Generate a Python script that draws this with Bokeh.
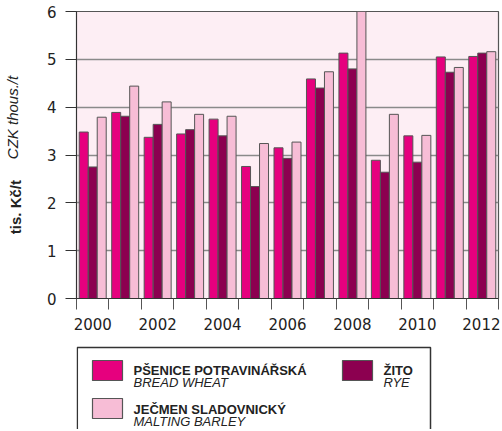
import math
from bokeh.plotting import figure
from bokeh.models import (ColumnDataSource, Range1d, FixedTicker, LinearAxis)
from bokeh.transform import dodge
from bokeh.layouts import column
from bokeh.core.properties import value
from bokeh.embed import file_html
from bokeh.resources import INLINE

# ---- data ----
years = [2000, 2001, 2002, 2003, 2004, 2005, 2006, 2007, 2008, 2009, 2010, 2011, 2012]
wheat = [3.48, 3.89, 3.37, 3.44, 3.75, 2.76, 3.15, 4.59, 5.13, 2.89, 3.40, 5.05, 5.06]
rye = [2.75, 3.81, 3.64, 3.53, 3.40, 2.34, 2.93, 4.40, 4.80, 2.64, 2.85, 4.73, 5.13]
barley = [3.79, 4.44, 4.11, 3.85, 3.81, 3.24, 3.27, 4.74, 6.30, 3.85, 3.41, 4.83, 5.16]
year_labels = [2000, 2002, 2004, 2006, 2008, 2010, 2012]
y_ticks = [0, 1, 2, 3, 4, 5, 6]
series_cz = ["PŠENICE POTRAVINÁŘSKÁ", "ŽITO", "JEČMEN SLADOVNICKÝ"]
series_en = ["BREAD WHEAT", "RYE", "MALTING BARLEY"]
colors = ["#e6007e", "#8c0050", "#f7bdd6"]
y_label_cz = "tis. Kč/t"
y_label_en = "CZK thous./t"

NBSP = "\u00a0"
src = ColumnDataSource(dict(year=years, wheat=wheat, rye=rye, barley=barley))

W = 500
p = figure(width=W, height=343, output_backend="svg", toolbar_location=None,
           x_range=Range1d(years[0] - 0.5, years[-1] + 0.5), y_range=Range1d(0, 6),
           min_border_left=76, min_border_right=2, min_border_top=11, min_border_bottom=45)
p.background_fill_color = "#fdeef4"
p.border_fill_color = "white"
p.outline_line_color = "#555555"
p.outline_line_width = 1.2

bw = 0.277
for key, off, col in zip(["wheat", "rye", "barley"], [-bw, 0, bw], colors):
    p.vbar(x=dodge("year", off, range=p.x_range), top=key, width=bw, source=src,
           fill_color=col, line_color="#555555", line_width=1)

p.xgrid.visible = False
p.ygrid.grid_line_color = "#8a8a8a"
p.ygrid.grid_line_width = 1.5
p.ygrid.ticker = FixedTicker(ticks=y_ticks)

xa = p.xaxis[0]
xa.ticker = FixedTicker(ticks=year_labels, minor_ticks=[y - 0.5 for y in years] + [years[-1] + 0.5])
xa.major_tick_out = 0
xa.major_tick_in = 0
xa.minor_tick_out = 11
xa.minor_tick_in = 0
xa.minor_tick_line_color = "#555555"
xa.axis_line_color = "#333333"
xa.major_label_text_font = "DejaVu Sans"
xa.major_label_text_font_size = "15px"
xa.major_label_text_color = "#222222"
xa.major_label_standoff = 8

ya = p.yaxis[0]
ya.ticker = FixedTicker(ticks=y_ticks)
ya.major_tick_out = 11
ya.major_tick_in = 0
ya.minor_tick_line_color = None
ya.major_tick_line_color = "#333333"
ya.axis_line_color = "#333333"
ya.major_label_text_font = "DejaVu Sans"
ya.major_label_text_font_size = "15px"
ya.major_label_text_color = "#222222"
ya.major_label_standoff = 9
# bold Czech unit, shifted toward the bottom by trailing no-break spaces
ya.axis_label = y_label_cz + NBSP * 25
ya.axis_label_text_font = "Liberation Sans"
ya.axis_label_text_font_style = "bold"
ya.axis_label_text_font_size = "15px"
ya.axis_label_text_color = "#222222"
ya.axis_label_standoff = 20

# italic English unit on an extra (invisible) axis, pulled onto the same line
ya2 = LinearAxis(ticker=FixedTicker(ticks=[]), axis_line_color=None,
                 major_tick_line_color=None, minor_tick_line_color=None,
                 major_label_text_font_size="0px",
                 axis_label=NBSP * 18 + y_label_en,
                 axis_label_text_font="Liberation Sans",
                 axis_label_text_font_style="italic",
                 axis_label_text_font_size="15px",
                 axis_label_text_color="#222222",
                 axis_label_standoff=-17)
p.add_layout(ya2, "left")

# ---- legend figure (coordinates = page pixels) ----
leg = figure(width=W, height=86, output_backend="svg", toolbar_location=None,
             x_range=Range1d(76, 498), y_range=Range1d(429, 343),
             x_axis_location=None, y_axis_location=None,
             min_border_left=76, min_border_right=2,
             min_border_top=0, min_border_bottom=0)
leg.outline_line_color = None
leg.background_fill_color = "white"
leg.xgrid.visible = False
leg.ygrid.visible = False
leg.line([76.8, 76.8, 430, 430], [440, 347, 347, 440], line_color="#333333", line_width=1.5)

sw_left = [92, 342, 92]
sw_top = [360, 360, 398]
txt_x = [133, 383, 133]
base1 = [369.5, 369.5, 408.5]
leg.quad(left=sw_left, right=[l + 30 for l in sw_left], top=sw_top,
         bottom=[t + 20 for t in sw_top], fill_color=colors, line_color="#555555", line_width=1.2)
leg.text(x=txt_x, y=base1, text=series_cz, text_font=value("Liberation Sans"),
         text_font_style="bold", text_font_size="13px", text_color="#222222",
         text_baseline="alphabetic")
leg.text(x=txt_x, y=[b + 12.3 for b in base1], text=series_en, text_font=value("Liberation Sans"),
         text_font_style="italic", text_font_size="13px", text_color="#222222",
         text_baseline="alphabetic")

layout = column(p, leg, spacing=0)
open("out.html", "w").write(file_html(layout, INLINE))
